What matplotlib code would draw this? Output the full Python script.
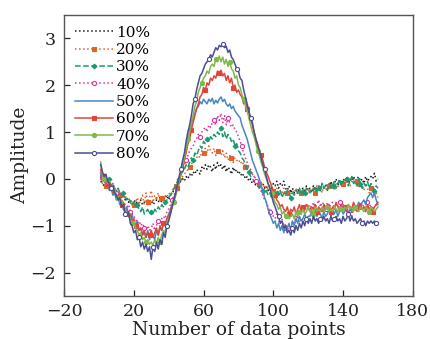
import matplotlib
matplotlib.use('Agg')
import matplotlib.pyplot as plt
import numpy as np

x = np.arange(1, 161)
labels = ['10%', '20%', '30%', '40%', '50%', '60%', '70%', '80%']

s10 = [-0.05, -0.1, -0.15, -0.1, -0.2, -0.15, -0.25, -0.2, -0.3, -0.25,
       -0.35, -0.3, -0.4, -0.35, -0.45, -0.4, -0.5, -0.45, -0.55, -0.5,
       -0.45, -0.55, -0.5, -0.45, -0.55, -0.5, -0.45, -0.55, -0.5, -0.45,
       -0.55, -0.5, -0.45, -0.5, -0.4, -0.5, -0.45, -0.4, -0.35, -0.45,
       -0.35, -0.3, -0.25, -0.2, -0.15, -0.1, -0.05, 0.0, -0.05, 0.05,
       0.0, 0.1, 0.05, 0.15, 0.1, 0.2, 0.15, 0.1, 0.25, 0.2,
       0.3, 0.2, 0.3, 0.25, 0.15, 0.3, 0.2, 0.35, 0.25, 0.3,
       0.2, 0.3, 0.15, 0.25, 0.2, 0.1, 0.25, 0.15, 0.2, 0.1,
       0.15, 0.05, 0.1, 0.0, 0.05, -0.05, 0.0, -0.1, -0.05, -0.15,
       -0.1, -0.2, -0.15, -0.1, -0.2, -0.15, -0.25, -0.15, -0.2, -0.1,
       -0.15, -0.05, -0.2, -0.1, -0.15, -0.05, -0.2, -0.25, -0.15, -0.3,
       -0.2, -0.3, -0.25, -0.2, -0.3, -0.25, -0.2, -0.3, -0.15, -0.25,
       -0.2, -0.3, -0.15, -0.25, -0.2, -0.15, -0.25, -0.1, -0.2, -0.15,
       -0.1, -0.2, -0.05, -0.15, -0.1, 0.0, -0.15, -0.05, -0.1, 0.0,
       -0.05, 0.05, -0.1, 0.0, -0.05, 0.05, -0.05, 0.0, 0.05, -0.05,
       0.0, -0.1, 0.05, -0.05, 0.0, 0.05, 0.0, 0.12, -0.05, 0.0]

s20 = [0.0, -0.1, -0.05, -0.15, -0.1, -0.2, -0.15, -0.25, -0.2, -0.3,
       -0.25, -0.35, -0.3, -0.4, -0.35, -0.45, -0.4, -0.5, -0.45, -0.55,
       -0.5, -0.4, -0.55, -0.45, -0.35, -0.55, -0.3, -0.5, -0.4, -0.25,
       -0.5, -0.35, -0.45, -0.3, -0.5, -0.4, -0.45, -0.35, -0.4, -0.3,
       -0.35, -0.25, -0.2, -0.15, -0.1, -0.05, 0.0, 0.05, 0.1, 0.15,
       0.2, 0.25, 0.3, 0.4, 0.35, 0.45, 0.5, 0.45, 0.6, 0.55,
       0.65, 0.55, 0.7, 0.6, 0.55, 0.65, 0.5, 0.6, 0.55, 0.5,
       0.6, 0.45, 0.55, 0.4, 0.5, 0.45, 0.35, 0.45, 0.4, 0.35,
       0.4, 0.3, 0.35, 0.25, 0.3, 0.2, 0.15, 0.1, 0.05, 0.0,
       -0.05, -0.1, -0.15, -0.1, -0.2, -0.15, -0.25, -0.2, -0.3, -0.25,
       -0.3, -0.2, -0.35, -0.25, -0.3, -0.2, -0.35, -0.3, -0.25, -0.35,
       -0.25, -0.3, -0.2, -0.35, -0.25, -0.3, -0.2, -0.25, -0.35, -0.2,
       -0.3, -0.25, -0.2, -0.3, -0.15, -0.25, -0.2, -0.3, -0.15, -0.2,
       -0.25, -0.15, -0.2, -0.1, -0.25, -0.15, -0.2, -0.05, -0.15, -0.1,
       0.0, -0.1, 0.05, -0.15, -0.05, 0.0, -0.1, -0.05, -0.2, -0.1,
       -0.15, -0.25, -0.1, -0.2, -0.3, -0.2, -0.25, -0.35, -0.3, -0.4]

s30 = [0.1, 0.0, 0.05, -0.05, -0.1, 0.0, -0.15, -0.1, -0.2, -0.25,
       -0.2, -0.3, -0.35, -0.3, -0.4, -0.45, -0.4, -0.5, -0.55, -0.5,
       -0.6, -0.55, -0.65, -0.7, -0.6, -0.75, -0.7, -0.65, -0.75, -0.7,
       -0.75, -0.65, -0.7, -0.6, -0.65, -0.55, -0.6, -0.5, -0.45, -0.4,
       -0.35, -0.3, -0.2, -0.15, -0.05, 0.0, 0.1, 0.15, 0.2, 0.3,
       0.25, 0.35, 0.45, 0.4, 0.55, 0.5, 0.6, 0.7, 0.65, 0.8,
       0.75, 0.85, 0.8, 0.9, 0.85, 0.95, 0.9, 1.0, 0.95, 1.08,
       0.9, 1.0, 0.85, 0.95, 0.9, 0.8, 0.85, 0.7, 0.75, 0.6,
       0.55, 0.45, 0.4, 0.3, 0.2, 0.15, 0.05, 0.0, -0.05, -0.1,
       -0.15, -0.2, -0.15, -0.25, -0.3, -0.25, -0.35, -0.3, -0.4, -0.35,
       -0.4, -0.3, -0.35, -0.25, -0.4, -0.3, -0.35, -0.25, -0.3, -0.4,
       -0.3, -0.35, -0.25, -0.3, -0.2, -0.35, -0.25, -0.3, -0.2, -0.25,
       -0.3, -0.2, -0.25, -0.15, -0.3, -0.2, -0.25, -0.1, -0.2, -0.15,
       -0.25, -0.1, -0.2, -0.15, -0.05, -0.2, -0.1, 0.0, -0.15, -0.05,
       -0.1, 0.0, -0.15, -0.05, 0.05, -0.1, -0.05, -0.15, 0.0, -0.1,
       -0.2, -0.1, -0.15, -0.05, -0.2, -0.1, -0.15, -0.25, -0.15, -0.2]

s40 = [0.15, 0.05, -0.05, 0.0, -0.1, -0.15, -0.2, -0.1, -0.25, -0.3,
       -0.35, -0.3, -0.45, -0.5, -0.55, -0.6, -0.55, -0.7, -0.75, -0.8,
       -0.85, -0.95, -0.9, -1.0, -0.95, -1.05, -1.1, -1.0, -1.1, -1.05,
       -0.95, -1.1, -1.0, -0.9, -0.95, -0.85, -0.8, -0.85, -0.7, -0.65,
       -0.55, -0.45, -0.35, -0.25, -0.1, 0.0, 0.1, 0.15, 0.3, 0.4,
       0.5, 0.6, 0.65, 0.7, 0.8, 0.85, 0.95, 0.9, 1.0, 1.05,
       1.1, 1.0, 1.15, 1.1, 1.2, 1.25, 1.15, 1.35, 1.25, 1.4,
       1.2, 1.35, 1.15, 1.3, 1.2, 1.1, 1.15, 1.05, 1.0, 0.9,
       0.8, 0.7, 0.55, 0.45, 0.35, 0.25, 0.2, 0.1, 0.05, -0.05,
       -0.1, -0.2, -0.25, -0.35, -0.45, -0.5, -0.6, -0.7, -0.65, -0.8,
       -0.85, -0.75, -0.9, -0.95, -0.85, -1.05, -0.95, -1.12, -1.0, -1.1,
       -0.9, -0.95, -0.8, -0.85, -0.7, -0.75, -0.6, -0.7, -0.55, -0.6,
       -0.55, -0.65, -0.5, -0.6, -0.55, -0.45, -0.6, -0.5, -0.55, -0.65,
       -0.5, -0.6, -0.55, -0.5, -0.65, -0.55, -0.6, -0.5, -0.6, -0.55,
       -0.65, -0.55, -0.75, -0.6, -0.8, -0.6, -0.7, -0.55, -0.65, -0.5,
       -0.6, -0.55, -0.65, -0.5, -0.6, -0.55, -0.65, -0.6, -0.55, -0.6]

s50 = [0.1, -0.05, 0.0, -0.15, -0.1, -0.25, -0.2, -0.35, -0.3, -0.45,
       -0.4, -0.55, -0.5, -0.65, -0.7, -0.6, -0.8, -0.85, -0.75, -0.95,
       -1.0, -0.9, -1.1, -1.05, -1.2, -1.15, -1.25, -1.1, -1.3, -1.15,
       -1.2, -1.3, -1.1, -1.2, -1.05, -1.1, -0.95, -1.0, -0.85, -0.75,
       -0.65, -0.55, -0.4, -0.3, -0.15, 0.0, 0.15, 0.3, 0.5, 0.7,
       0.85, 1.0, 1.15, 1.3, 1.4, 1.5, 1.55, 1.65, 1.6, 1.7,
       1.65, 1.6, 1.7, 1.65, 1.72, 1.6, 1.68, 1.62, 1.7, 1.75,
       1.65, 1.7, 1.6, 1.55, 1.6, 1.5, 1.55, 1.45, 1.4, 1.35,
       1.3, 1.15, 1.05, 0.95, 0.85, 0.7, 0.55, 0.4, 0.3, 0.2,
       0.1, 0.0, -0.15, -0.25, -0.4, -0.5, -0.65, -0.75, -0.85, -0.95,
       -0.9, -1.05, -0.95, -1.1, -1.0, -1.15, -1.0, -1.05, -0.95, -1.1,
       -0.9, -1.0, -0.85, -0.95, -0.8, -0.9, -0.85, -0.75, -0.85, -0.8,
       -0.8, -0.7, -0.85, -0.75, -0.8, -0.7, -0.75, -0.85, -0.7, -0.8,
       -0.75, -0.65, -0.8, -0.7, -0.75, -0.65, -0.8, -0.7, -0.6, -0.75,
       -0.7, -0.6, -0.75, -0.65, -0.7, -0.55, -0.65, -0.6, -0.5, -0.6,
       -0.5, -0.45, -0.55, -0.4, -0.35, -0.3, -0.4, -0.3, -0.45, -0.55]

s60 = [0.2, 0.05, 0.1, -0.05, -0.1, -0.2, -0.15, -0.3, -0.25, -0.4,
       -0.35, -0.5, -0.55, -0.5, -0.65, -0.7, -0.8, -0.75, -0.9, -0.85,
       -1.0, -0.95, -1.1, -1.05, -1.2, -1.1, -1.25, -1.15, -1.2, -1.1,
       -1.25, -1.15, -1.05, -1.2, -1.0, -1.1, -0.95, -1.0, -0.85, -0.8,
       -0.7, -0.55, -0.45, -0.35, -0.2, -0.1, 0.1, 0.2, 0.4, 0.55,
       0.75, 0.85, 1.05, 1.2, 1.35, 1.5, 1.6, 1.75, 1.8, 1.95,
       1.9, 2.05, 2.0, 2.15, 2.1, 2.2, 2.15, 2.3, 2.25, 2.32,
       2.2, 2.25, 2.1, 2.2, 2.05, 2.15, 1.95, 2.0, 1.85, 1.9,
       1.8, 1.75, 1.6, 1.65, 1.5, 1.4, 1.3, 1.15, 1.0, 0.85,
       0.75, 0.6, 0.5, 0.4, 0.25, 0.15, 0.05, -0.05, -0.15, -0.25,
       -0.35, -0.45, -0.5, -0.6, -0.55, -0.65, -0.7, -0.6, -0.75, -0.65,
       -0.7, -0.6, -0.75, -0.65, -0.55, -0.7, -0.6, -0.65, -0.55, -0.6,
       -0.7, -0.6, -0.65, -0.55, -0.7, -0.6, -0.65, -0.7, -0.55, -0.6,
       -0.65, -0.55, -0.7, -0.6, -0.65, -0.5, -0.6, -0.7, -0.55, -0.65,
       -0.6, -0.7, -0.55, -0.6, -0.65, -0.5, -0.6, -0.7, -0.6, -0.55,
       -0.65, -0.6, -0.7, -0.55, -0.65, -0.6, -0.7, -0.6, -0.55, -0.5]

s70 = [0.36, 0.1, 0.0, 0.05, -0.1, -0.05, -0.2, -0.25, -0.2, -0.35,
       -0.4, -0.5, -0.45, -0.6, -0.65, -0.75, -0.7, -0.85, -0.95, -0.9,
       -1.05, -1.1, -1.2, -1.15, -1.3, -1.25, -1.35, -1.3, -1.4, -1.35,
       -1.42, -1.3, -1.38, -1.25, -1.35, -1.2, -1.1, -1.15, -0.95, -0.85,
       -0.75, -0.6, -0.5, -0.35, -0.2, -0.05, 0.15, 0.3, 0.45, 0.65,
       0.85, 1.0, 1.2, 1.35, 1.55, 1.65, 1.85, 1.95, 2.05, 2.15,
       2.2, 2.3, 2.25, 2.4, 2.45, 2.4, 2.55, 2.5, 2.62, 2.5,
       2.6, 2.45, 2.55, 2.4, 2.5, 2.35, 2.3, 2.15, 2.2, 2.0,
       1.95, 1.8, 1.7, 1.55, 1.45, 1.3, 1.15, 1.0, 0.9, 0.75,
       0.6, 0.5, 0.35, 0.25, 0.1, 0.0, -0.1, -0.2, -0.3, -0.4,
       -0.5, -0.55, -0.65, -0.6, -0.75, -0.7, -0.8, -0.75, -0.85, -0.8,
       -0.75, -0.85, -0.7, -0.8, -0.7, -0.75, -0.65, -0.75, -0.7, -0.6,
       -0.7, -0.65, -0.75, -0.6, -0.7, -0.65, -0.7, -0.6, -0.7, -0.65,
       -0.6, -0.7, -0.65, -0.7, -0.6, -0.65, -0.7, -0.6, -0.65, -0.7,
       -0.6, -0.65, -0.55, -0.65, -0.6, -0.7, -0.6, -0.65, -0.7, -0.6,
       -0.65, -0.7, -0.6, -0.65, -0.7, -0.6, -0.65, -0.7, -0.65, -0.6]

s80 = [0.3, 0.15, 0.05, 0.1, -0.05, -0.1, -0.2, -0.15, -0.3, -0.35,
       -0.45, -0.4, -0.6, -0.55, -0.75, -0.8, -0.7, -0.95, -1.0, -1.15,
       -1.1, -1.3, -1.25, -1.45, -1.35, -1.5, -1.4, -1.55, -1.45, -1.72,
       -1.45, -1.55, -1.35, -1.5, -1.3, -1.4, -1.15, -1.25, -1.0, -0.9,
       -0.75, -0.6, -0.45, -0.3, -0.15, 0.05, 0.2, 0.4, 0.55, 0.8,
       1.0, 1.15, 1.35, 1.6, 1.7, 1.9, 2.05, 2.2, 2.25, 2.35,
       2.45, 2.5, 2.55, 2.65, 2.6, 2.7, 2.8, 2.75, 2.85, 2.82,
       2.88, 2.8, 2.83, 2.7, 2.75, 2.6, 2.55, 2.45, 2.35, 2.3,
       2.15, 2.1, 1.9, 1.75, 1.6, 1.45, 1.3, 1.2, 1.0, 0.85,
       0.7, 0.6, 0.45, 0.3, 0.2, 0.05, -0.1, -0.2, -0.35, -0.5,
       -0.6, -0.7, -0.8, -0.95, -0.9, -1.05, -1.0, -1.15, -1.1, -1.2,
       -1.05, -1.15, -1.0, -1.1, -0.95, -1.05, -0.9, -1.0, -0.85, -0.95,
       -0.85, -0.95, -0.8, -0.9, -0.85, -0.95, -0.85, -0.9, -0.8, -0.9,
       -0.85, -0.95, -0.8, -0.9, -0.85, -0.8, -0.9, -0.85, -0.95, -0.8,
       -0.9, -0.85, -0.75, -0.9, -0.8, -0.9, -0.85, -0.95, -0.9, -0.85,
       -0.95, -0.9, -1.0, -0.9, -0.95, -0.9, -0.95, -0.9, -0.95, -0.95]

series = [s10, s20, s30, s40, s50, s60, s70, s80]
colors = ['#1a1a1a', '#e0622a', '#1a9a72', '#d6359a', '#4a86c0', '#e0453a', '#80b84a', '#4a4e92']
styles = [':', ':', '--', ':', '-', '-', '-', '-']
markers = [None, 's', 'D', 'o', None, 's', 'o', 'o']
mfcs = [None, None, None, 'white', None, None, None, 'white']
msizes = [0, 2.6, 2.4, 3.0, 0, 3.0, 3.0, 3.0]
offsets = [0, 3, 5, 1, 0, 4, 2, 6]

plt.rcParams['font.family'] = ['DejaVu Serif']
fig = plt.figure(figsize=(4.3, 3.39), dpi=100)
ax = fig.add_axes([0.149, 0.127, 0.811, 0.829])

for s, lab, c, ls, m, mfc, ms, off in zip(series, labels, colors, styles, markers, mfcs, msizes, offsets):
    kw = dict(color=c, linestyle=ls, linewidth=1.1, label=lab)
    if m is not None:
        kw.update(marker=m, markersize=ms, markevery=(off, 8),
                  markerfacecolor=(mfc if mfc else c), markeredgecolor=c, markeredgewidth=0.8)
    ax.plot(x, s, **kw)

ax.set_xlim(-20, 180)
ax.set_ylim(-2.5, 3.5)
ax.set_xticks([-20, 20, 60, 100, 140, 180])
ax.set_xticklabels(['\u221220', '20', '60', '100', '140', '180'])
ax.set_yticks([-2, -1, 0, 1, 2, 3])
ax.set_yticklabels(['\u22122', '\u22121', '0', '1', '2', '3'])
ax.tick_params(direction='in', length=4, width=0.9, labelsize=12.5, colors='#222222')
ax.tick_params(axis='y', pad=6)
ax.tick_params(axis='x', pad=5)
for sp in ax.spines.values():
    sp.set_color('#555555')
    sp.set_linewidth(1.0)

ax.set_xlabel('Number of data points', fontsize=13.5, labelpad=0.5, color='#222222')
ax.set_ylabel('Amplitude', fontsize=13.5, labelpad=1, color='#222222')

ax.legend(loc='upper left', frameon=False, fontsize=11, handlelength=2.5,
          handletextpad=0.2, labelspacing=0.22, borderaxespad=0.3,
          bbox_to_anchor=(0.0, 1.0))

fig.savefig('out.png', dpi=100)
